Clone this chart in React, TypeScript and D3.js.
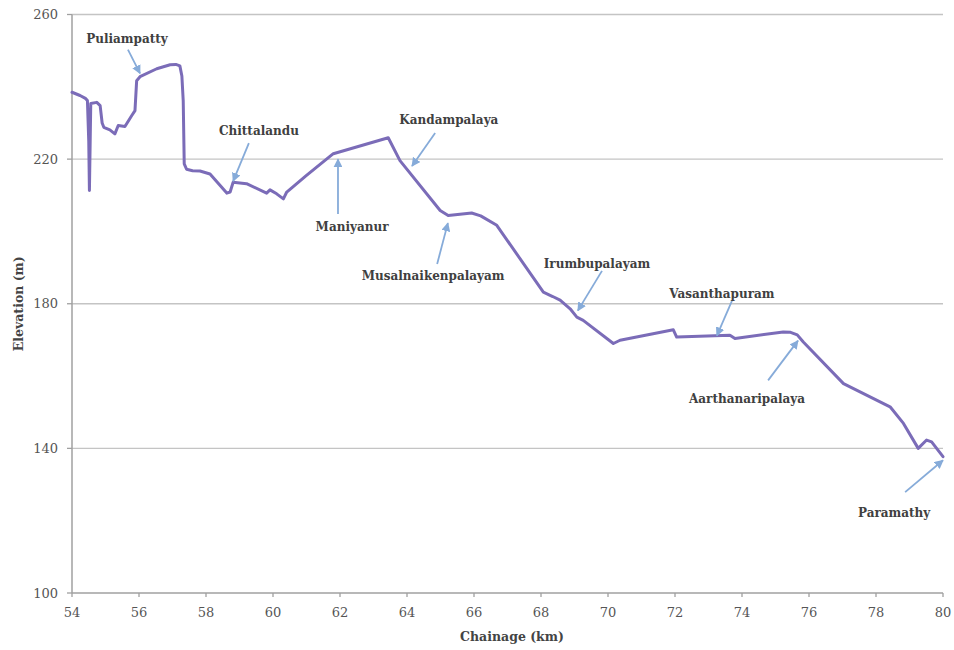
import React from "react";
import * as d3 from "d3";

const chainage = [54, 54.24, 54.4, 54.46, 54.5, 54.52, 54.56, 54.74, 54.84, 54.9, 54.95, 55.13, 55.28, 55.38, 55.58, 55.78, 55.88, 55.93, 56.03, 56.53, 56.93, 57.1, 57.22, 57.28, 57.32, 57.35, 57.42, 57.6, 57.82, 58.12, 58.62, 58.72, 58.81, 59.21, 59.81, 59.91, 60.11, 60.31, 60.41, 61.0, 61.8, 63.44, 63.79, 64.99, 65.23, 65.93, 66.2, 66.68, 68.07, 68.35, 68.57, 68.87, 69.07, 69.26, 70.16, 70.36, 71.95, 72.05, 73.64, 73.79, 75.23, 75.45, 75.65, 75.83, 77.03, 78.42, 78.82, 79.26, 79.51, 79.66, 80];
const elevation = [238.5, 237.6, 236.8, 236.2, 225, 211.3, 235.4, 235.7, 234.8, 230, 228.8, 228.1, 227, 229.3, 229, 232, 233.4, 241.7, 242.8, 245, 246.1, 246.2, 245.8, 243, 236.2, 218.7, 217.2, 216.8, 216.7, 215.9, 210.6, 210.9, 213.6, 213.2, 210.6, 211.5, 210.4, 209, 210.9, 215.5, 221.5, 225.9, 219.6, 205.8, 204.4, 205.1, 204.3, 201.7, 183.2, 182, 181, 178.6, 176.3, 175.4, 169, 169.9, 172.8, 170.8, 171.3, 170.4, 172.2, 172.1, 171.4, 169.4, 157.9, 151.5, 146.9, 140, 142.3, 141.8, 137.7];

const xTicks = [54, 56, 58, 60, 62, 64, 66, 68, 70, 72, 74, 76, 78, 80];
const yTicks = [100, 140, 180, 220, 260];
const gridTicks = [140, 180, 220, 260];

const placeNames = ["Puliampatty", "Chittalandu", "Maniyanur", "Kandampalaya", "Musalnaikenpalayam", "Irumbupalayam", "Vasanthapuram", "Aarthanaripalaya", "Paramathy"];
const labelKm = [55.64, 59.58, 62.36, 65.25, 64.78, 69.67, 73.4, 74.15, 78.54];
const labelElev = [253.4, 227.7, 201.2, 231, 187.7, 191, 182.8, 153.8, 122.3];
const tailKm = [55.67, 59.28, 61.94, 64.84, 64.9, 69.82, 73.7, 74.78, 78.87];
const tailElev = [250.3, 224.4, 204.8, 227.2, 191, 189.1, 180.8, 158.8, 127.9];
const headKm = [56.03, 58.81, 61.94, 64.15, 65.22, 69.1, 73.25, 75.67, 80];
const headElev = [243.7, 213.9, 220, 218.1, 202.3, 178.1, 171.2, 169.8, 136.7];

export default function App() {
  const W = 954, H = 650;
  const left = 72, right = 943, top = 14.5, bottom = 593;
  const x = d3.scaleLinear().domain([54, 80]).range([left, right]);
  const y = d3.scaleLinear().domain([100, 260]).range([bottom, top]);
  const pts: [number, number][] = chainage.map((c, i) => [c, elevation[i]]);
  const line = d3.line<[number, number]>().x(d => x(d[0])).y(d => y(d[1])).curve(d3.curveLinear);
  const font = "DejaVu Serif";
  const arrowColor = "#86abd9";
  return (
    <svg width={W} height={H} style={{ position: "absolute", left: 0, top: 0, background: "#fff" }}>
      <defs>
        <marker id="ah" viewBox="0 0 10 10" refX="9" refY="5" markerWidth="5" markerHeight="5" orient="auto">
          <path d="M0,0 L10,5 L0,10 z" fill={arrowColor} />
        </marker>
      </defs>
      {gridTicks.map(t => (
        <line key={"g" + t} x1={left} x2={right} y1={y(t)} y2={y(t)} stroke="#c4c4c4" strokeWidth={1.3} />
      ))}
      <line x1={left} x2={left} y1={top} y2={bottom} stroke="#a0a0a0" strokeWidth={1.5} />
      <line x1={left} x2={right} y1={bottom} y2={bottom} stroke="#a0a0a0" strokeWidth={1.5} />
      {yTicks.map(t => (
        <g key={"y" + t}>
          <line x1={left - 5} x2={left} y1={y(t)} y2={y(t)} stroke="#a0a0a0" strokeWidth={1.3} />
          <text x={left - 14} y={y(t)} dy="0.35em" textAnchor="end" fontFamily={font} fontSize={13} fill="#555">{t}</text>
        </g>
      ))}
      {xTicks.map(t => (
        <g key={"x" + t}>
          <line x1={x(t)} x2={x(t)} y1={bottom} y2={bottom + 4} stroke="#a0a0a0" strokeWidth={1.3} />
          <text x={x(t)} y={bottom + 19} dy="0.35em" textAnchor="middle" fontFamily={font} fontSize={13} fill="#555">{t}</text>
        </g>
      ))}
      <text x={512} y={637} dy="0.35em" textAnchor="middle" fontFamily={font} fontSize={12.5} fontWeight="bold" fill="#444">Chainage (km)</text>
      <text transform={`translate(19,${(top + bottom) / 2}) rotate(-90)`} dy="0.35em" textAnchor="middle" fontFamily={font} fontSize={12.5} fontWeight="bold" fill="#444">Elevation (m)</text>
      <path d={line(pts) || ""} fill="none" stroke="#7b6cb8" strokeWidth={3} strokeLinejoin="round" strokeLinecap="round" />
      {placeNames.map((n, i) => (
        <g key={n}>
          <line x1={x(tailKm[i])} y1={y(tailElev[i])} x2={x(headKm[i])} y2={y(headElev[i])} stroke={arrowColor} strokeWidth={1.8} markerEnd="url(#ah)" />
          <text x={x(labelKm[i])} y={y(labelElev[i])} dy="0.35em" textAnchor="middle" fontFamily={font} fontSize={12} fontWeight="bold" fill="#404040">{n}</text>
        </g>
      ))}
    </svg>
  );
}
